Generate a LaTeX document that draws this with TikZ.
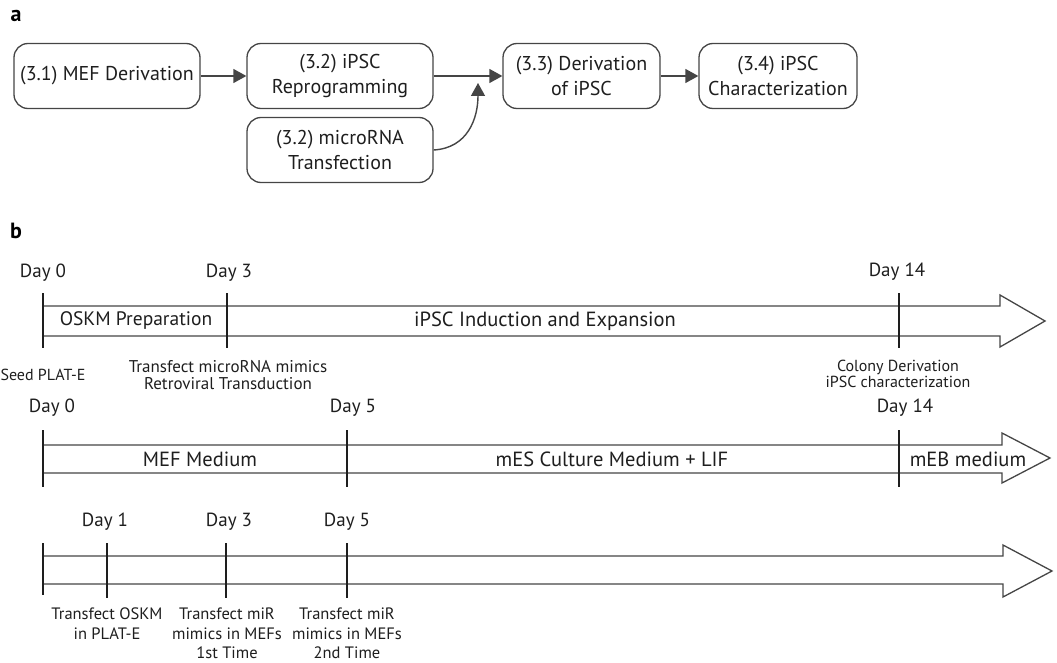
\documentclass[tikz,border=0pt]{standalone}
\usepackage{fontspec}
\setmainfont{PT Sans}
\usetikzlibrary{arrows.meta}
\definecolor{ink}{HTML}{1E1E1E}
\definecolor{edge}{HTML}{454545}
\begin{document}
\begin{tikzpicture}[x=1pt,y=-1pt,
  box/.style={draw=edge, line width=1.3pt, rounded corners=14pt, minimum width=186pt, minimum height=65pt,
    inner xsep=1pt, align=center, text=ink, font=\fontsize{20}{25}\selectfont},
  arr/.style={draw=edge, line width=1.4pt, -{Triangle[length=13pt,width=14pt]}},
  band/.style={draw=edge, line width=1.3pt, line join=miter},
  tickline/.style={draw=ink, line width=1.3pt},
  day/.style={text=ink, font=\fontsize{19}{22}\selectfont, inner sep=0pt},
  big/.style={text=ink, font=\fontsize{20.5}{22}\selectfont, inner sep=0pt},
  small/.style={text=ink, font=\fontsize{16}{16.5}\selectfont, inner sep=0pt, align=center},
  smallb/.style={text=ink, font=\fontsize{16.5}{19.5}\selectfont, inner sep=0pt, align=center},
  panel/.style={text=black, font=\fontsize{22}{24}\selectfont\bfseries, inner sep=0pt}]
\useasboundingbox (0,0) rectangle (1057,663);
% panel a
\node[panel] (la) at (16,16) {a};
\node[box] (m) at (107,76) {(3.1) MEF Derivation};
\node[box] (r) at (340,76) {(3.2) iPSC\\Reprogramming};
\node[box] (t) at (340,150) {(3.2) microRNA\\Transfection};
\node[box, minimum width=157pt] (d) at (581.5,76) {(3.3) Derivation\\of iPSC};
\node[box, minimum width=158pt] (c) at (778,76) {(3.4) iPSC\\Characterization};
\draw[arr] (m.east) -- (r.west);
\draw[arr] (r.east) -- (d.west);
\draw[arr] (d.east) -- (c.west);
\coordinate (j) at (478,83);
\draw[arr] (t.east) .. controls (468,148) and (478,118) .. (j);
% panel b
\node[panel] (lb) at (16,231) {b};
% timeline 1
\draw[band] (43,306) -- (1000,306) -- (1000,295) -- (1045,321) -- (1000,347) -- (1000,336) -- (43,336);
\draw[tickline] (43,293) -- (43,348);
\draw[tickline] (227,293) -- (227,348);
\draw[tickline] (899,293) -- (899,348);
\node[day] (d10) at (43,273) {Day 0};
\node[day] (d13) at (229,273) {Day 3};
\node[day] (d114) at (897,272) {Day 14};
\node[big, font=\fontsize{19.5}{22}\selectfont] (osk) at (136,321) {OSKM Preparation};
\node[big] (ind) at (545,321) {iPSC Induction and Expansion};
\node[small] (seed) at (43,375) {Seed PLAT-E};
\node[small, font=\fontsize{17}{16.5}\selectfont] (tmi) at (228,375) {Transfect microRNA mimics\\Retroviral Transduction};
\node[small] (col) at (898,374) {Colony Derivation\\iPSC characterization};
% timeline 2
\draw[band] (43,445) -- (1002,445) -- (1002,433) -- (1050,458) -- (1002,483) -- (1002,473) -- (43,473);
\draw[tickline] (43,430) -- (43,487);
\draw[tickline] (347,430) -- (347,487);
\draw[tickline] (899,430) -- (899,487);
\node[day] (d20) at (52,408) {Day 0};
\node[day] (d25) at (353,408) {Day 5};
\node[day] (d214) at (905,408) {Day 14};
\node[big] (mef) at (200,459) {MEF Medium};
\node[big] (mes) at (612,459) {mES Culture Medium + LIF};
\node[big] (meb) at (968,459) {mEB medium};
% timeline 3
\draw[band] (43,556) -- (1003,556) -- (1003,545) -- (1052,571) -- (1003,597) -- (1003,584) -- (43,584);
\draw[tickline] (43,543) -- (43,595);
\draw[tickline] (107,543) -- (107,598);
\draw[tickline] (226,543) -- (226,598);
\draw[tickline] (347,543) -- (347,598);
\node[day] (d31) at (105,522) {Day 1};
\node[day] (d33) at (229,522) {Day 3};
\node[day] (d35) at (347,522) {Day 5};
\node[smallb, anchor=north] (t1) at (107,608) {Transfect OSKM\\in PLAT-E};
\node[smallb, anchor=north] (t2) at (227,608) {Transfect miR\\mimics in MEFs\\1st Time};
\node[smallb, anchor=north] (t3) at (347,608) {Transfect miR\\mimics in MEFs\\2nd Time};
\end{tikzpicture}
\end{document}
